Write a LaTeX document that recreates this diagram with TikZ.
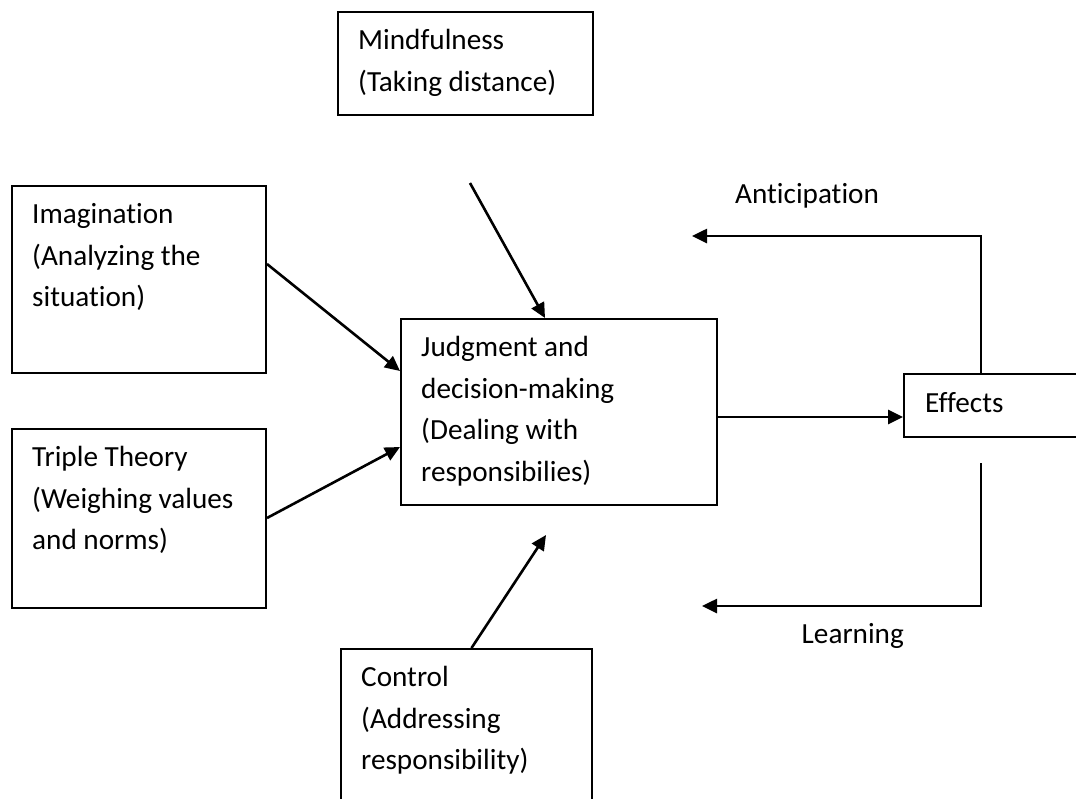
\documentclass[tikz,border=0pt]{standalone}
\usepackage{fontspec}
\setmainfont{Carlito}[Ligatures={NoCommon}]
\usetikzlibrary{arrows.meta}
\begin{document}
\begin{tikzpicture}[x=1pt,y=-1pt,
  box/.style={draw=black, line width=2pt, rectangle, inner sep=0pt, anchor=north west},
  txt/.style={anchor=base west, inner sep=0pt, align=flush left, text width=#1,
    font=\fontsize{29.2}{41.6}\selectfont},
  txt/.default=300pt,
  arr/.style={line width=2.6pt, -{Triangle[length=15pt,width=14pt]}}]
\useasboundingbox (0,0) rectangle (1076,798);
% boxes
\node[box, minimum width=255pt, minimum height=103pt] (mind) at (337,11) {};
\node[box, minimum width=254pt, minimum height=187pt] (imag) at (11,185) {};
\node[box, minimum width=254pt, minimum height=179pt] (trip) at (11,428) {};
\node[box, minimum width=316pt, minimum height=186pt] (judg) at (400,318) {};
\node[box, minimum width=200pt, minimum height=63pt] (eff) at (903,373) {};
\node[box, minimum width=251pt, minimum height=200pt] (ctrl) at (340,648) {};
% texts
\node[txt] (mindt) at ([xshift=21pt,yshift=-38.5pt]mind.north west) {Mindfulness\\(Taking distance)};
\node[txt] (imagt) at ([xshift=21pt,yshift=-38.5pt]imag.north west) {Imagination\\(Analyzing the\\situation)};
\node[txt] (tript) at ([xshift=21pt,yshift=-38.5pt]trip.north west) {Triple Theory\\(Weighing values\\and norms)};
\node[txt] (judgt) at ([xshift=21pt,yshift=-38.5pt]judg.north west) {Judgment and\\decision-making\\(Dealing with\\responsibilies)};
\node[txt] (efft) at ([xshift=22pt,yshift=-39.5pt]eff.north west) {Effects};
\node[txt] (ctrlt) at ([xshift=21pt,yshift=-38.5pt]ctrl.north west) {Control\\(Addressing\\responsibility)};
\node[txt] (antt) at (735,203.5) {Anticipation};
\node[txt] (learnt) at (801.5,643) {Learning};
% free ends
\coordinate (mstart) at (470,183);
\coordinate (ctip) at (546,535);
\coordinate (atip) at (692,236);
\coordinate (lstart) at (981,463);
\coordinate (ltip) at (702,606);
% connectors
\draw[arr] ([yshift=-79pt]imag.north east) -- ([yshift=-53pt]judg.north west);
\draw[arr] ([yshift=-90pt]trip.north east) -- ([yshift=-129pt]judg.north west);
\draw[arr] (mstart) -- ([xshift=145pt]judg.north west);
\draw[arr] ([xshift=131.5pt]ctrl.north west) -- (ctip);
\draw[arr] ([yshift=-99pt]judg.north east) -- ([yshift=-44pt]eff.north west);
\draw[arr] ([xshift=78pt]eff.north west) |- (atip);
\draw[arr] (lstart) |- (ltip);
\end{tikzpicture}
\end{document}
